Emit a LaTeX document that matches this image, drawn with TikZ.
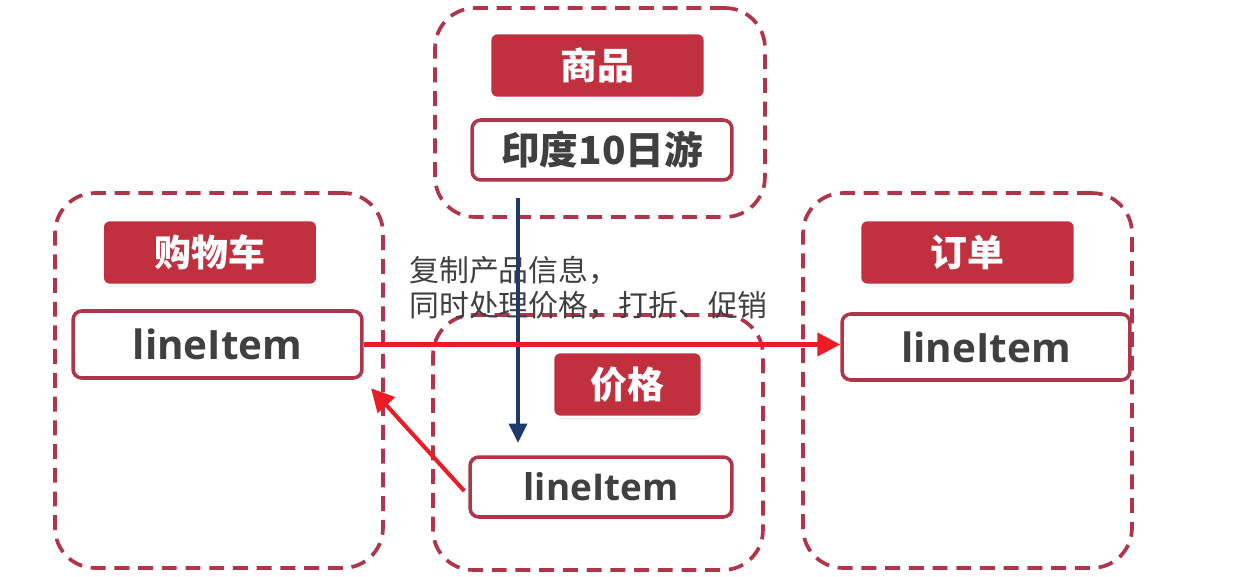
\documentclass[tikz,border=0pt]{standalone}
\usepackage{xcolor}
\usepackage{fontspec}
\usepackage{tikz}
\usetikzlibrary{arrows.meta, positioning, calc, shadows}
\newfontfamily\cjk{Noto Sans CJK SC}
\newfontfamily\latinbold{Open Sans}
\definecolor{DashRed}{RGB}{176, 52, 74}
\definecolor{TagRed}{RGB}{192, 48, 63}
\definecolor{ArrowRed}{RGB}{236, 28, 36}
\definecolor{DeepNavy}{RGB}{30, 58, 104}
\definecolor{InkGray}{RGB}{64, 64, 64}

\begin{document}
\begin{tikzpicture}[
  x=0.02cm, y=-0.02cm,
  zone/.style={draw=DashRed, line width=2.1pt, dash pattern=on 8.5pt off 5pt,
               rounded corners=0.8cm, inner sep=0pt},
  tag/.style={fill=TagRed, draw=white, line width=1.5pt, rounded corners=4pt,
              minimum width=4.3cm, minimum height=1.3cm, inner sep=0pt,
              drop shadow={opacity=0.25, shadow xshift=0.5pt, shadow yshift=-1pt},
              text=white, font=\cjk\bfseries\fontsize{21}{24}\selectfont},
  item/.style={fill=white, draw=DashRed, line width=2pt, rounded corners=5pt,
               minimum height=1.2cm, inner sep=0pt,
               drop shadow={opacity=0.2, shadow xshift=0.5pt, shadow yshift=-1pt},
               text=InkGray, font=\latinbold\bfseries\fontsize{23}{26}\selectfont},
  flow/.style={-{Triangle[length=13pt, width=13pt]}, line width=2.3pt, color=ArrowRed}
]
  \useasboundingbox (0,0) rectangle (1237,577);

  % dashed areas
  \node[zone, minimum width=6.6cm,  minimum height=4.18cm] (goodsZone) at (600,112.5) {};
  \node[zone, minimum width=6.56cm, minimum height=7.5cm]  (cartZone)  at (219,380.5) {};
  \node[zone, minimum width=6.6cm,  minimum height=5.1cm]  (priceZone) at (598,442.5) {};
  \node[zone, minimum width=6.58cm, minimum height=7.5cm]  (orderZone) at (967.5,380.5) {};

  % titles
  \node[tag] (goods) at (597.5,65.5) {商品};
  \node[tag] (cart)  at (210,252.5)  {购物车};
  \node[tag] (order) at (967.5,252.5) {订单};
  \node[tag, minimum width=2.98cm] (price) at (627.5,384.5) {价格};

  % items
  \node[item, minimum width=5.2cm, font=\cjk\bfseries\fontsize{22}{26}\selectfont] (trip) at (602,150) {印度10日游};
  \node[item, minimum width=5.78cm, minimum height=1.34cm] (cartItem)  at (217.5,344.5) {lineItem};
  \node[item, minimum width=5.24cm, font=\latinbold\bfseries\fontsize{21}{24}\selectfont] (priceItem) at (601,487) {lineItem};
  \node[item, minimum width=5.76cm, minimum height=1.32cm] (orderItem) at (986,347) {lineItem};

  \node[anchor=west, align=left, text=InkGray, inner sep=0pt,
        font=\cjk\fontsize{17}{20}\selectfont] (note) at (409,288)
       {复制产品信息，\\同时处理价格，打折、促销};

  \coordinate (copyFrom) at (518,198);
  \coordinate (copyTo)   at (518,443);
  \draw[-{Triangle[length=11pt, width=10pt]}, line width=2.5pt, DeepNavy] (copyFrom) -- (copyTo);

  \draw[flow] (cartItem.east) -- (cartItem.east -| orderItem.west);
  \draw[flow, shorten >=2pt] ($(priceItem.west)+(-4,4)$) -- ($(cartItem.south east)+(5,6)$);
\end{tikzpicture}
\end{document}
